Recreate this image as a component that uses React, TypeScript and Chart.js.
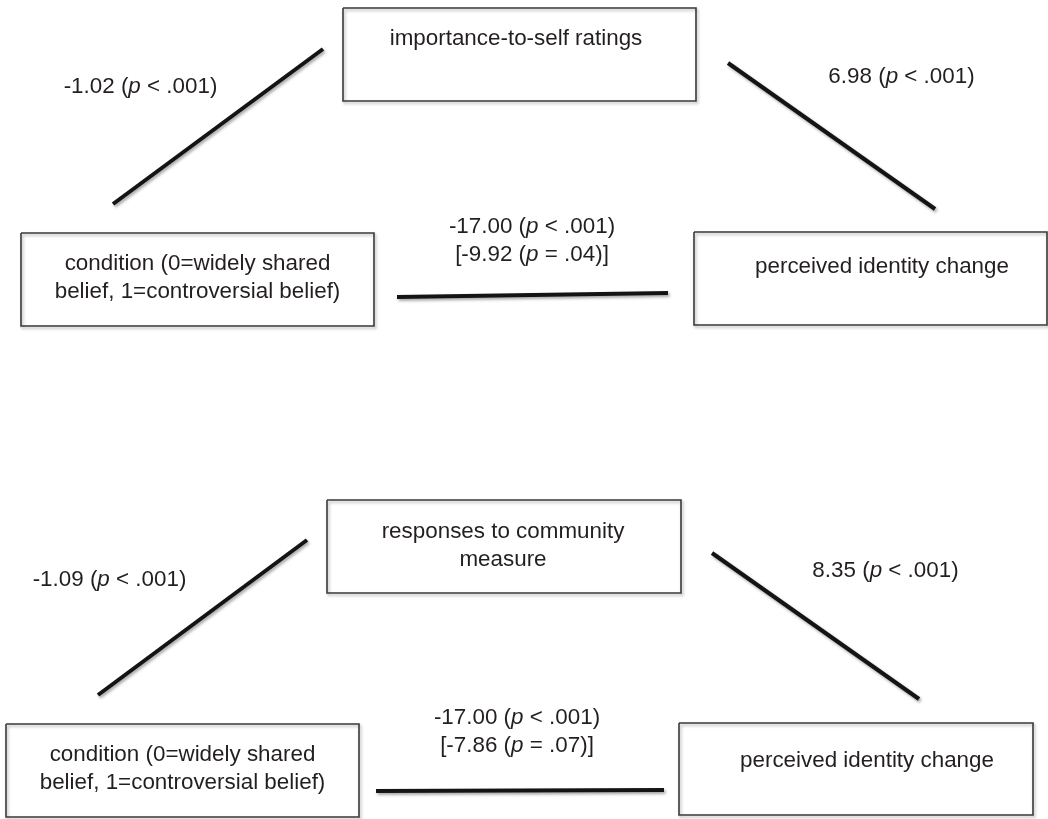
import React, { useEffect, useRef } from "react";
import { Chart, registerables } from "chart.js";

Chart.register(...registerables);

const W = 1048;
const H = 819;

// Node boxes of the two mediation diagrams: [left, top, right, bottom] in diagram units
const nodeTexts: string[][] = [
  ["importance-to-self ratings"],
  ["condition (0=widely shared", "belief, 1=controversial belief)"],
  ["perceived identity change"],
  ["responses to community", "measure"],
  ["condition (0=widely shared", "belief, 1=controversial belief)"],
  ["perceived identity change"],
];
const nodeBoxes: number[][] = [
  [343, 8, 696, 101],
  [21, 233, 374, 326],
  [694, 232, 1047, 325],
  [327, 500, 681, 593],
  [6, 724, 359, 817],
  [679, 723, 1033, 815],
];
const nodeTextAnchor: number[][] = [
  [516, 45],
  [197.5, 270],
  [882, 273],
  [503, 538],
  [182.5, 761],
  [867, 767],
];

// Paths (edges): [x1, y1, x2, y2]
const pathEnds: number[][] = [
  [113, 204, 323, 49],
  [728, 63, 935, 209],
  [397, 297, 668, 293],
  [98, 695, 307, 540],
  [712, 553, 919, 699],
  [376, 791, 664, 790],
];
const pathLabels: string[][] = [
  ["-1.02 (_p_ < .001)"],
  ["6.98 (_p_ < .001)"],
  ["-17.00 (_p_ < .001)", "[-9.92 (_p_ = .04)]"],
  ["-1.09 (_p_ < .001)"],
  ["8.35 (_p_ < .001)"],
  ["-17.00 (_p_ < .001)", "[-7.86 (_p_ = .07)]"],
];
const pathLabelAnchor: number[][] = [
  [140.5, 93],
  [901.5, 83],
  [532, 233],
  [109.5, 586],
  [885.5, 577],
  [517, 724],
];

const FONT_FAMILY = '"Liberation Sans", Arial, Helvetica, sans-serif';
const FONT_SIZE = 22.4;
const LINE_GAP = 27.5;
const TEXT_COLOR = "#231f20";

function drawRich(ctx: CanvasRenderingContext2D, text: string, cx: number, baseY: number) {
  const parts = text.split(/_(.*?)_/);
  const fonts = parts.map((_, i) =>
    (i % 2 === 1 ? "italic " : "") + `${FONT_SIZE}px ${FONT_FAMILY}`
  );
  let total = 0;
  const widths = parts.map((p, i) => {
    ctx.font = fonts[i];
    const w = ctx.measureText(p).width;
    total += w;
    return w;
  });
  let x = cx - total / 2;
  parts.forEach((p, i) => {
    ctx.font = fonts[i];
    ctx.fillText(p, x, baseY);
    x += widths[i];
  });
}

const textPlugin = {
  id: "diagramText",
  afterDatasetsDraw(chart: any) {
    const { ctx, scales } = chart;
    const sx = scales.x;
    const sy = scales.y;
    ctx.save();
    ctx.fillStyle = TEXT_COLOR;
    ctx.textBaseline = "alphabetic";
    ctx.textAlign = "left";
    const drawBlock = (lines: string[], anchor: number[]) => {
      lines.forEach((ln, k) => {
        const px = sx.getPixelForValue(anchor[0]);
        const py = sy.getPixelForValue(anchor[1] + k * LINE_GAP);
        drawRich(ctx, ln, px, py);
      });
    };
    nodeTexts.forEach((lines, i) => drawBlock(lines, nodeTextAnchor[i]));
    pathLabels.forEach((lines, i) => drawBlock(lines, pathLabelAnchor[i]));
    ctx.restore();
  },
};

const shadowPlugin = {
  id: "dropShadow",
  beforeDatasetDraw(chart: any, args: any) {
    const ctx = chart.ctx;
    ctx.save();
    const isPath = chart.data.datasets[args.index].kind === "path";
    ctx.shadowColor = isPath ? "rgba(0,0,0,0.35)" : "rgba(0,0,0,0.3)";
    ctx.shadowBlur = 3;
    ctx.shadowOffsetX = 1.5;
    ctx.shadowOffsetY = 2;
  },
  afterDatasetDraw(chart: any) {
    chart.ctx.restore();
  },
};

export default function App() {
  const ref = useRef<HTMLCanvasElement | null>(null);

  useEffect(() => {
    document.body.style.margin = "0";
    const canvas = ref.current;
    if (!canvas) return;

    const boxSets = nodeBoxes.map((b) => ({
      kind: "box",
      data: [
        { x: b[0], y: b[1] },
        { x: b[2], y: b[1] },
        { x: b[2], y: b[3] },
        { x: b[0], y: b[3] },
        { x: b[0], y: b[1] },
      ],
      showLine: true,
      borderColor: "#3a3a3a",
      borderWidth: 1.6,
      pointRadius: 0,
      fill: false,
      tension: 0,
      borderJoinStyle: "miter",
    }));
    const pathSets = pathEnds.map((p) => ({
      kind: "path",
      data: [
        { x: p[0], y: p[1] },
        { x: p[2], y: p[3] },
      ],
      showLine: true,
      borderColor: "#141414",
      borderWidth: 4,
      pointRadius: 0,
      fill: false,
      tension: 0,
      borderCapStyle: "butt",
    }));

    const chart = new Chart(canvas, {
      type: "scatter",
      data: { datasets: [...boxSets, ...pathSets] as any },
      options: {
        animation: false,
        responsive: false,
        maintainAspectRatio: false,
        layout: { padding: 0 },
        events: [],
        plugins: {
          legend: { display: false },
          tooltip: { enabled: false },
          title: { display: false },
        },
        scales: {
          x: { type: "linear", min: 0, max: W, display: false },
          y: { type: "linear", min: 0, max: H, reverse: true, display: false },
        },
      },
      plugins: [shadowPlugin, textPlugin],
    });
    return () => chart.destroy();
  }, []);

  return (
    <div style={{ width: W, height: H, background: "#fff" }}>
      <canvas ref={ref} width={W} height={H} style={{ display: "block", width: W, height: H }} />
    </div>
  );
}
